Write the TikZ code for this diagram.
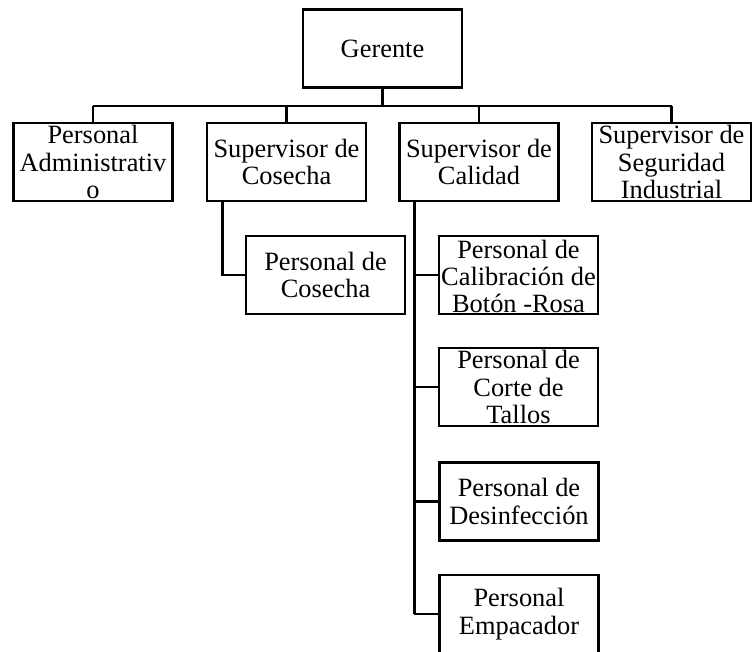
\documentclass[tikz,border=0pt]{standalone}
\usepackage{fontspec}
\setmainfont{Liberation Serif}
\usetikzlibrary{calc}
\begin{document}
\begin{tikzpicture}[x=0.75pt,y=-0.75pt,
  boxframe/.style={draw, line width=1.7pt, minimum width=119.25pt, minimum height=58.5pt, inner sep=0pt},
  boxtext/.style={align=center, inner sep=0pt, font=\fontsize{19.8}{20.5}\selectfont},
  link/.style={line width=2.1pt},
  toplink/.style={line width=2.8pt}]
\useasboundingbox (0,0) rectangle (752,652);
% boxes
\node[boxframe] (g) at (382.5,48.5) {};
\node[boxtext] (gt) at (g) {Gerente};
\node[boxframe] (pa) at (93,162) {};
\node[boxtext] (pat) at (pa) {Personal\\Administrativ\\o};
\node[boxframe] (sc) at (286.5,162) {};
\node[boxtext] (sct) at (sc) {Supervisor de\\Cosecha};
\node[boxframe] (sq) at (479,162) {};
\node[boxtext] (sqt) at (sq) {Supervisor de\\Calidad};
\node[boxframe] (ss) at (671.5,162) {};
\node[boxtext] (sst) at (ss) {Supervisor de\\Seguridad\\Industrial};
\node[boxframe] (pc) at (325.5,275) {};
\node[boxtext] (pct) at (pc) {Personal de\\Cosecha};
\node[boxframe] (pb) at (518.5,275) {};
\node[boxtext] (pbt) at ([yshift=-1pt]pb.center) {Personal de\\Calibración de\\Botón -Rosa};
\node[boxframe] (pt) at (518.5,387) {};
\node[boxtext] (ptt) at (pt) {Personal de\\Corte de\\Tallos};
\node[boxframe] (pd) at (519,501.5) {};
\node[boxtext] (pdt) at (pd) {Personal de\\Desinfección};
\node[boxframe] (pe) at (519,614) {};
\node[boxtext] (pet) at (pe) {Personal\\Empacador};
% connectors
\coordinate (bus) at (382.5,106);
\draw[toplink] (g.south) -- (bus);
\draw[link] (pa.north |- bus) -- (ss.north |- bus);
\draw[link] (pa.north |- bus) -- (pa.north);
\draw[link] (sc.north |- bus) -- (sc.north);
\draw[link] (sq.north |- bus) -- (sq.north);
\draw[link] (ss.north |- bus) -- (ss.north);
\coordinate (scx) at ($(sc.south west)+(17,0)$);
\draw[link] (scx) |- (pc.west);
\coordinate (sqx) at ($(sq.south west)+(16,0)$);
\draw[link] (sqx) -- (sqx |- pe.west);
\draw[link] (sqx |- pb.west) -- (pb.west);
\draw[link] (sqx |- pt.west) -- (pt.west);
\draw[link] (sqx |- pd.west) -- (pd.west);
\draw[link] (sqx |- pe.west) -- (pe.west);
\end{tikzpicture}
\end{document}
